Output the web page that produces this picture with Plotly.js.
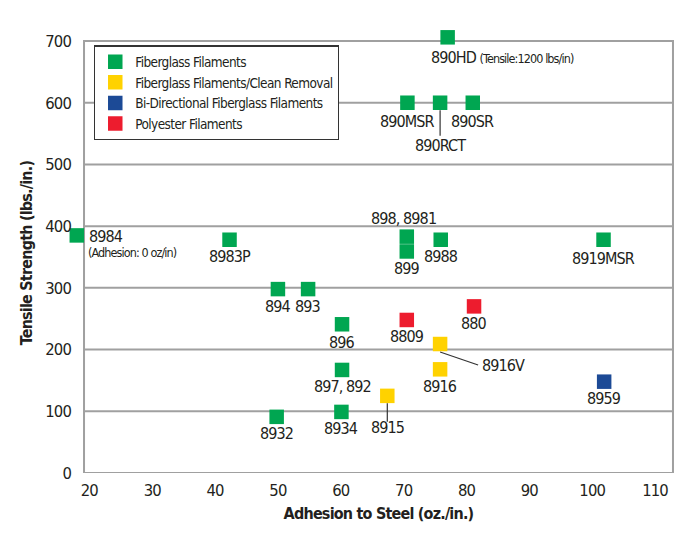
<!DOCTYPE html>
<html>
<head>
<meta charset="utf-8">
<script src="https://cdn.plot.ly/plotly-3.0.1.min.js"></script>
<style>
html,body{margin:0;padding:0;background:#fff;}
#chart{width:700px;height:533px;}
text.annotation-text{letter-spacing:-0.9px;}
text.legendtext{letter-spacing:-0.6px;}
.xtick text,.ytick text{letter-spacing:-0.85px;}
text.xtitle,text.ytitle{letter-spacing:-0.8px;}
</style>
</head>
<body>
<div id="chart"></div>
<script>
// ---- Data ----
const seriesNames = ['Fiberglass Filaments', 'Fiberglass Filaments/Clean Removal', 'Bi-Directional Fiberglass Filaments', 'Polyester Filaments'];

const fiberglassLabels = ['890HD', '890MSR', '890RCT', '890SR', '8984', '8983P', '898, 8981', '899', '8988', '8919MSR', '894', '893', '896', '897, 892', '8932', '8934'];
const fiberglassAdhesion = [77.0, 70.6, 75.8, 81.0, 18.0, 42.3, 70.5, 70.5, 75.9, 101.8, 50.0, 54.8, 60.2, 60.2, 49.8, 60.1];
const fiberglassTensile  = [706, 600, 600, 600, 385, 378, 383, 359, 378, 378, 298, 298, 241, 167, 91, 99];

const cleanLabels = ['8916V', '8916', '8915'];
const cleanAdhesion = [75.8, 75.8, 67.4];
const cleanTensile  = [209, 168, 125];

const biLabels = ['8959'];
const biAdhesion = [101.9];
const biTensile  = [148];

const polyLabels = ['8809', '880'];
const polyAdhesion = [70.5, 81.2];
const polyTensile  = [248, 270];

const noteHD = '(Tensile:1200 lbs/in)';
const note8984 = '(Adhesion: 0 oz/in)';

const xTicks = [20, 30, 40, 50, 60, 70, 80, 90, 100, 110];
const yTicks = [0, 100, 200, 300, 400, 500, 600, 700];

// ---- Layout / styles ----
// visible frame spans xFrame horizontally and yTicks[0]..yTicks[last] vertically;
// the axis ranges are a little wider so off-scale markers (8984, 890HD) stay drawable
const xFrame = [19.15, 112.85];
const xRange = [16.92, 115.08];
const yRange = [0, 713];

const colors = ['#00a651', '#ffd200', '#1c4a96', '#ed1c2e'];
const FONT = "'Liberation Sans Narrow', 'Arial Narrow', 'DejaVu Sans Condensed', sans-serif";
const TXT = '#231f20';
const GRID = '#a0a0a0';
const MSIZE = 14.5;

// label placement (pixel offsets relative to the marker)
const place = {
  '890HD':     {dx: -19, dy: -20, xa: 'left'},
  '890RCT':    {dx: 0, dy: -43, line: [0, -7.5, 0, -33]},
  '8984':      {dx: 10, dy: -1, xa: 'left'},
  '898, 8981': {dx: -3, dy: 18},
  '8919MSR':   {dx: 0, dy: -19},
  '896':       {dx: 0, dy: -18.5},
  '8916V':     {dx: 40, dy: -21, xa: 'left', line: [0, -8, 38, -21]},
  '8915':      {dx: 0, dy: -32, line: [0, -7.5, 0, -26]},
  '890MSR':    {dx: 0, dy: -19},
  '890SR':     {dx: 0, dy: -19}
};
const defaultPlace = {dx: 0, dy: -17};

const groups = [
  [fiberglassLabels, fiberglassAdhesion, fiberglassTensile],
  [cleanLabels, cleanAdhesion, cleanTensile],
  [biLabels, biAdhesion, biTensile],
  [polyLabels, polyAdhesion, polyTensile]
];

const traces = groups.map((g, i) => ({
  type: 'scatter', mode: 'markers', name: seriesNames[i],
  x: g[1], y: g[2], text: g[0], hoverinfo: 'text+x+y',
  marker: {symbol: 'square', size: MSIZE, color: colors[i]},
  cliponaxis: false
}));

const annotations = [];
const shapes = [];

// frame and horizontal grid lines
shapes.push({
  type: 'rect', xref: 'x', yref: 'y', layer: 'below',
  x0: xFrame[0], x1: xFrame[1], y0: yTicks[0], y1: yTicks[yTicks.length - 1],
  line: {color: GRID, width: 2}, fillcolor: 'rgba(0,0,0,0)'
});
yTicks.slice(1, -1).forEach(v => shapes.push({
  type: 'line', xref: 'x', yref: 'y', layer: 'below',
  x0: xFrame[0], x1: xFrame[1], y0: v, y1: v,
  line: {color: GRID, width: 2}
}));

groups.forEach(g => {
  g[0].forEach((lab, j) => {
    const p = place[lab] || defaultPlace;
    let text = lab;
    if (lab === '890HD') text = lab + ' <span style="font-size:12.5px">' + noteHD + '</span>';
    annotations.push({
      x: g[1][j], y: g[2][j], xref: 'x', yref: 'y', text: text, showarrow: false,
      xanchor: p.xa || 'center', yanchor: 'middle', xshift: p.dx, yshift: p.dy,
      font: {family: FONT, size: 16, color: TXT}
    });
    if (lab === '8984') {
      annotations.push({
        x: g[1][j], y: g[2][j], xref: 'x', yref: 'y', text: note8984, showarrow: false,
        xanchor: 'left', yanchor: 'middle', xshift: 9.5, yshift: -17,
        font: {family: FONT, size: 12.5, color: TXT}
      });
    }
    if (p.line) {
      shapes.push({
        type: 'line', xref: 'x', yref: 'y', xsizemode: 'pixel', ysizemode: 'pixel',
        xanchor: g[1][j], yanchor: g[2][j],
        x0: p.line[0], y0: p.line[1], x1: p.line[2], y1: p.line[3],
        line: {color: '#333', width: 1.2}
      });
    }
  });
});

const layout = {
  width: 700, height: 533,
  margin: {l: 70, r: 13, t: 33, b: 60},
  paper_bgcolor: '#ffffff', plot_bgcolor: '#ffffff',
  font: {family: FONT, color: TXT, size: 16},
  showlegend: true,
  legend: {
    x: 0.039, y: 0.972, xanchor: 'left', yanchor: 'top',
    bgcolor: '#ffffff', bordercolor: '#333', borderwidth: 1.2,
    font: {family: FONT, size: 13.5, color: TXT}, tracegroupgap: 0
  },
  xaxis: {
    range: xRange, tickvals: xTicks, ticktext: xTicks.map(String),
    showgrid: false, zeroline: false, showline: false,
    ticks: '', ticklabelstandoff: 5,
    tickfont: {family: FONT, size: 16.5, color: TXT},
    title: {text: '<b>Adhesion to Steel (oz./in.)</b>', font: {family: FONT, size: 16, color: TXT}, standoff: 9}
  },
  yaxis: {
    range: yRange, tickvals: yTicks, ticktext: yTicks.map(String),
    showgrid: false, zeroline: false, showline: false,
    ticks: '', ticklabelstandoff: -2,
    tickfont: {family: FONT, size: 16.5, color: TXT},
    title: {text: '<b>Tensile Strength (lbs./in.)</b>', font: {family: FONT, size: 16, color: TXT}, standoff: 8}
  },
  annotations: annotations,
  shapes: shapes
};

Plotly.newPlot('chart', traces, layout, {displayModeBar: false, staticPlot: true});
</script>
</body>
</html>
